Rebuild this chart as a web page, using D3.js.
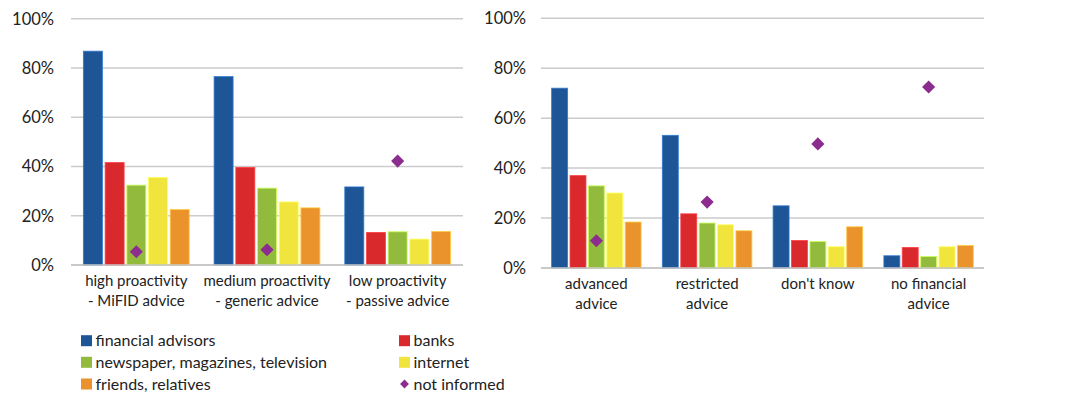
<!DOCTYPE html>
<html><head><meta charset="utf-8">
<script src="https://cdn.jsdelivr.net/npm/d3@7"></script>
<style>body{margin:0;background:#fff}svg{display:block}text{font-family:Lato,"Liberation Sans",sans-serif;fill:#222}</style>
</head><body><svg id="c" width="1069" height="394"></svg>
<script>
const series = ["financial advisors","banks","newspaper, magazines, television","internet","friends, relatives"];
const markerSeries = "not informed";
const colors = ["#1d5596","#d9292c","#92bb3d","#f0e43d","#ea922b"];
const markerColor = "#8b2c8e";
const yTicks = [0,0.2,0.4,0.6,0.8,1.0];

const leftCats = [["high proactivity","- MiFID advice"],["medium proactivity","- generic advice"],["low proactivity","- passive advice"]];
const leftValues = [
  [0.870,0.418,0.326,0.357,0.227],
  [0.767,0.398,0.314,0.258,0.234],
  [0.319,0.134,0.137,0.107,0.138]
];
const leftMarker = [0.054,0.062,0.422];

const rightCats = [["advanced","advice"],["restricted","advice"],["don't know"],["no financial","advice"]];
const rightValues = [
  [0.722,0.372,0.331,0.302,0.186],
  [0.533,0.219,0.182,0.175,0.151],
  [0.251,0.112,0.108,0.087,0.167],
  [0.051,0.084,0.048,0.087,0.092]
];
const rightMarker = [0.109,0.264,0.497,0.725];

const svg = d3.select("#c");
const fmt = d3.format(".0%");

function panel(cats, values, marker, x0, x1, y0, y1, labelX, catY) {
  const g = svg.append("g");
  const y = d3.scaleLinear().domain([0,1]).range([y0,y1]);
  const x = d3.scaleBand().domain(d3.range(cats.length)).range([x0,x1]).paddingInner(0.183).paddingOuter(0.0915);
  const xi = d3.scaleBand().domain(d3.range(series.length)).range([0,x.bandwidth()]).paddingInner(0.08);
  g.selectAll("line.grid").data(yTicks).join("line")
    .attr("x1",x0).attr("x2",x1).attr("y1",d=>y(d)).attr("y2",d=>y(d))
    .attr("stroke","#cbcbcb").attr("stroke-width",1.5);
  g.selectAll("text.tick").data(yTicks).join("text")
    .attr("x",labelX).attr("y",d=>y(d)).attr("dy","0.36em").attr("text-anchor","end")
    .style("font-size","16.5px").text(d=>fmt(d));
  const grp = g.selectAll("g.cat").data(values).join("g").attr("transform",(d,i)=>`translate(${x(i)},0)`);
  grp.selectAll("rect").data(d=>d).join("rect")
    .attr("x",(d,i)=>xi(i)+0.5).attr("width",xi.bandwidth()-1)
    .attr("y",d=>y(d)+0.5).attr("height",d=>y(0)-y(d)-0.5)
    .attr("fill",(d,i)=>colors[i])
    .attr("stroke",(d,i)=>d3.color(colors[i]).brighter(0.9)).attr("stroke-width",1).attr("stroke-opacity",0.8);
  g.selectAll("path.mk").data(marker).join("path")
    .attr("transform",(d,i)=>`translate(${x(i)+xi(2)+xi.bandwidth()/2},${y(d)})`)
    .attr("d",d3.symbol(d3.symbolDiamond2,110)()).attr("fill",markerColor);
  g.append("line").attr("x1",x0).attr("x2",x1).attr("y1",y(0)).attr("y2",y(0)).attr("stroke","#c4c4c4").attr("stroke-width",1.5);
  cats.forEach((c,i)=>{
    const t = g.append("text").attr("text-anchor","middle").style("font-size","15px");
    c.forEach((line,k)=>t.append("tspan").attr("x",x(i)+x.bandwidth()/2).attr("y",catY+k*19.5).text(line));
  });
}

panel(leftCats,leftValues,leftMarker,71,463,265,18.7,54,286);
panel(rightCats,rightValues,rightMarker,541,984,268,18.3,526,289);

const legendItems = series.map((s,i)=>({name:s,color:colors[i],type:"rect"})).concat([{name:markerSeries,color:markerColor,type:"diamond"}]);
const lx = [81,399], ly = [340.7,362.3,384];
legendItems.forEach((d,i)=>{
  const cx = lx[i%2], cy = ly[Math.floor(i/2)];
  if(d.type==="rect") svg.append("rect").attr("x",cx).attr("y",cy-5.5).attr("width",11).attr("height",11).attr("fill",d.color);
  else svg.append("path").attr("transform",`translate(${cx+5.5},${cy})`).attr("d",d3.symbol(d3.symbolDiamond2,50)()).attr("fill",d.color);
  svg.append("text").attr("x",cx+14.5).attr("y",cy).attr("dy","0.35em").style("font-size","16px").text(d.name);
});
</script></body></html>
